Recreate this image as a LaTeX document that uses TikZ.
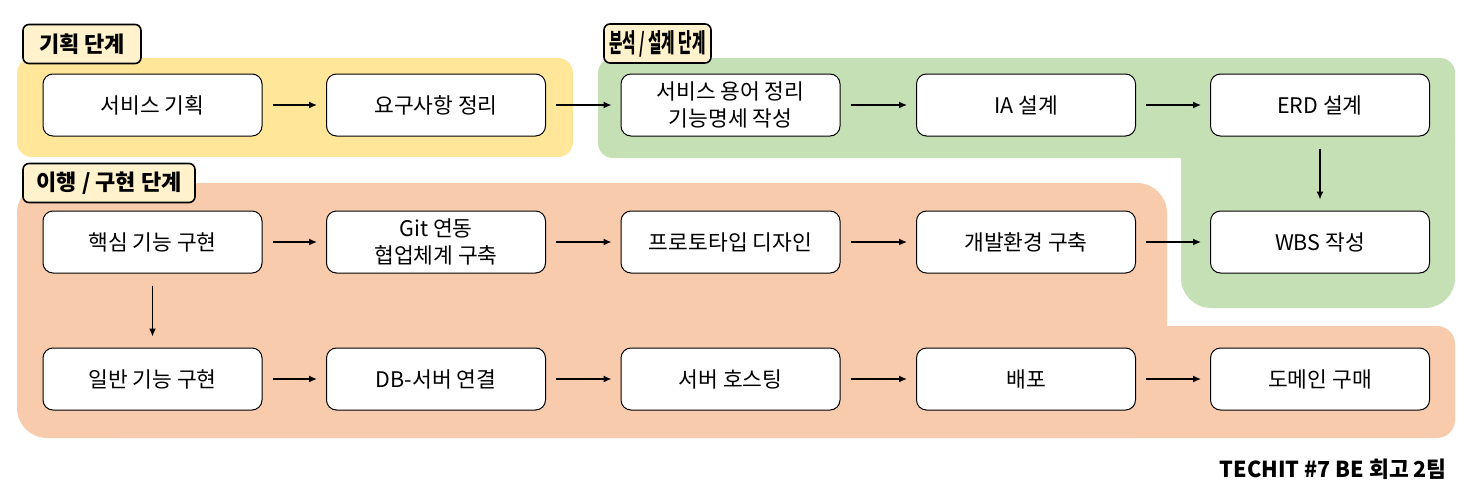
\documentclass[tikz,border=0pt]{standalone}
\usepackage{fontspec}
\setmainfont{Noto Sans CJK KR}
\usetikzlibrary{arrows.meta}
\definecolor{planfill}{HTML}{FFE699}
\definecolor{designfill}{HTML}{C5E0B4}
\definecolor{buildfill}{HTML}{F8CBAD}
\definecolor{tagfill}{HTML}{FFF2CC}

\tikzset{
  task/.style={draw, fill=white, rounded corners=10pt, line width=1pt,
    minimum width=219pt, minimum height=62pt, inner sep=2pt, align=center,
    font=\fontsize{21.5}{27}\selectfont},
  phase/.style={draw, fill=tagfill, rounded corners=6pt, line width=1.6pt,
    inner sep=0pt, minimum height=39pt, font=\bfseries\fontsize{22}{26}\selectfont},
  flow/.style={-{Latex[length=8pt,width=7pt]}, line width=1.4pt,
    shorten <=10pt, shorten >=9pt},
}

\begin{document}
\begin{tikzpicture}[x=1pt, y=-1pt]
  \useasboundingbox (0,0) rectangle (1471,490);

  % phase regions
  \fill[planfill, rounded corners=15pt] (17,58) rectangle (573,157);
  \fill[designfill, rounded corners=15pt] (598,58) rectangle (1455,158);
  \fill[designfill, rounded corners=30pt] (1181,100) rectangle (1455,308);
  \fill[buildfill, rounded corners=30pt] (17,183) rectangle (1167,438);
  \fill[buildfill, rounded corners=18pt] (100,326) rectangle (1455,438);

  % phase tags
  \node[phase, minimum width=118pt] (plantag)   at (82,44)    {기획 단계};
  \node[phase, minimum width=107pt] (designtag) at (657.5,43.5) {\fontsize{26}{30}\selectfont\scalebox{0.56}[1]{분석 / 설계 단계}};
  \node[phase, minimum width=172pt] (buildtag)  at (109,183)  {이행 / 구현 단계};

  % first row
  \node[task] (plan) at (152.5,105) {서비스 기획};
  \node[task] (req)  at (436,105)   {요구사항 정리};
  \node[task] (term) at (730.5,105) {서비스 용어 정리\\기능명세 작성};
  \node[task] (ia)   at (1026,105)  {IA 설계};
  \node[task] (erd)  at (1320,105)  {ERD 설계};

  % second row
  \node[task] (core)  at (152.5,242) {핵심 기능 구현};
  \node[task] (git)   at (436,242)   {Git 연동\\협업체계 구축};
  \node[task] (proto) at (730.5,242) {프로토타입 디자인};
  \node[task] (env)   at (1026,242)  {개발환경 구축};
  \node[task] (wbs)   at (1320,242)  {WBS 작성};

  % third row
  \node[task] (basic)  at (152.5,379) {일반 기능 구현};
  \node[task] (db)     at (436,379)   {DB-서버 연결};
  \node[task] (host)   at (730.5,379) {서버 호스팅};
  \node[task] (deploy) at (1026,379)  {배포};
  \node[task] (domain) at (1320,379)  {도메인 구매};

  \draw[flow] (plan) -- (req);
  \draw[flow] (req) -- (term);
  \draw[flow] (term) -- (ia);
  \draw[flow] (ia) -- (erd);
  \draw[flow, shorten <=12pt, shorten >=11pt] (erd) -- (wbs);

  \draw[flow] (core) -- (git);
  \draw[flow] (git) -- (proto);
  \draw[flow] (proto) -- (env);
  \draw[flow] (env) -- (wbs);
  \draw[flow, shorten <=12pt, shorten >=11pt] (core) -- (basic);

  \draw[flow] (basic) -- (db);
  \draw[flow] (db) -- (host);
  \draw[flow] (host) -- (deploy);
  \draw[flow] (deploy) -- (domain);

  \node[anchor=south east, inner sep=0pt, font=\bfseries\fontsize{22}{26}\selectfont]
    (team) at (1447,480) {\scalebox{0.98}[1]{TECHIT \#7 BE 회고 2팀}};
\end{tikzpicture}
\end{document}
